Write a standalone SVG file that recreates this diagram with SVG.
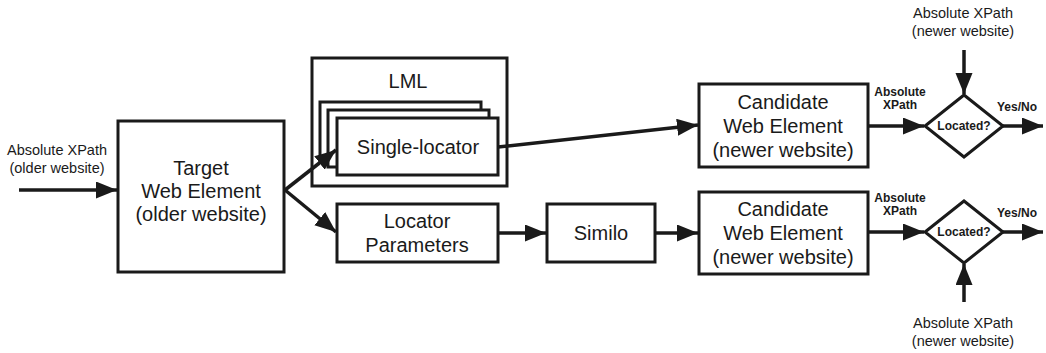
<svg xmlns="http://www.w3.org/2000/svg" width="1046" height="353" viewBox="0 0 1046 353">
<style>
.box{fill:#fff;stroke:#1a1a1a;stroke-width:3}
.t{font-family:"Liberation Sans",Arial,sans-serif;font-size:20px;fill:#1a1a1a;text-anchor:middle}
.s{font-family:"Liberation Sans",Arial,sans-serif;font-size:14.5px;fill:#1a1a1a;text-anchor:middle}
.b{font-family:"Liberation Sans",Arial,sans-serif;font-size:12px;font-weight:bold;fill:#1a1a1a;text-anchor:middle}
.c{fill:none;stroke:#1a1a1a;stroke-width:3.5}
</style>
<defs>
<marker id="ah" markerUnits="userSpaceOnUse" markerWidth="22" markerHeight="18" refX="21" refY="8.5" orient="auto">
<path d="M0,0 L21,8.5 L0,17 Z" fill="#1a1a1a"/>
</marker>
</defs>
<rect width="1046" height="353" fill="#fff"/>

<g id="target">
<rect class="box" x="118" y="121" width="166" height="151"/>
<text class="t" x="201" y="175">Target</text>
<text class="t" x="201" y="198">Web Element</text>
<text class="t" x="201" y="221">(older website)</text>
</g>

<g id="lml">
<rect class="box" x="312" y="58" width="195" height="128"/>
<text class="t" x="408" y="88">LML</text>
<rect class="box" x="320" y="102" width="161" height="57"/>
<rect class="box" x="328" y="110" width="161" height="57"/>
<rect class="box" x="337" y="118" width="161" height="57"/>
<text class="t" x="418" y="154">Single-locator</text>
</g>

<g id="locparams">
<rect class="box" x="337" y="204" width="161" height="58"/>
<text class="t" x="417" y="228">Locator</text>
<text class="t" x="417" y="252">Parameters</text>
</g>

<g id="similo">
<rect class="box" x="547" y="204" width="108" height="58"/>
<text class="t" x="601" y="240">Similo</text>
</g>

<g id="cand1">
<rect class="box" x="699" y="84" width="169" height="83"/>
<text class="t" x="783" y="109">Candidate</text>
<text class="t" x="783" y="133">Web Element</text>
<text class="t" x="783" y="157">(newer website)</text>
</g>

<g id="cand2">
<rect class="box" x="699" y="192" width="169" height="82"/>
<text class="t" x="783" y="216">Candidate</text>
<text class="t" x="783" y="240">Web Element</text>
<text class="t" x="783" y="264">(newer website)</text>
</g>

<g id="dec1">
<polygon class="box" points="925,126 964,95 1003,126 964,157"/>
<text class="b" x="964" y="130">Located?</text>
</g>

<g id="dec2">
<polygon class="box" points="925,232 964,201 1003,232 964,263"/>
<text class="b" x="964" y="236">Located?</text>
</g>

<g id="labels">
<text class="s" x="57" y="155">Absolute XPath</text>
<text class="s" x="57" y="173">(older website)</text>
<text class="s" x="963" y="18">Absolute XPath</text>
<text class="s" x="963" y="36">(newer website)</text>
<text class="s" x="963" y="328">Absolute XPath</text>
<text class="s" x="963" y="346">(newer website)</text>
<text class="b" x="900" y="96">Absolute</text>
<text class="b" x="900" y="109">XPath</text>
<text class="b" x="900" y="202">Absolute</text>
<text class="b" x="900" y="215">XPath</text>
<text class="b" x="1017" y="111">Yes/No</text>
<text class="b" x="1017" y="217">Yes/No</text>
</g>

<g id="connectors">
<line class="c" x1="19" y1="190" x2="117" y2="190" marker-end="url(#ah)"/>
<line class="c" x1="285" y1="190" x2="336" y2="150" marker-end="url(#ah)"/>
<line class="c" x1="285" y1="190" x2="336" y2="232" marker-end="url(#ah)"/>
<line class="c" x1="498" y1="147" x2="698" y2="125" marker-end="url(#ah)"/>
<line class="c" x1="498" y1="233" x2="546" y2="233" marker-end="url(#ah)"/>
<line class="c" x1="655" y1="233" x2="698" y2="233" marker-end="url(#ah)"/>
<line class="c" x1="868" y1="126" x2="924" y2="126" marker-end="url(#ah)"/>
<line class="c" x1="868" y1="232" x2="924" y2="232" marker-end="url(#ah)"/>
<line class="c" x1="1003" y1="126" x2="1043" y2="126" marker-end="url(#ah)"/>
<line class="c" x1="1003" y1="232" x2="1043" y2="232" marker-end="url(#ah)"/>
<line class="c" x1="964" y1="50" x2="964" y2="94" marker-end="url(#ah)"/>
<line class="c" x1="964" y1="302" x2="964" y2="264" marker-end="url(#ah)"/>
</g>
</svg>
